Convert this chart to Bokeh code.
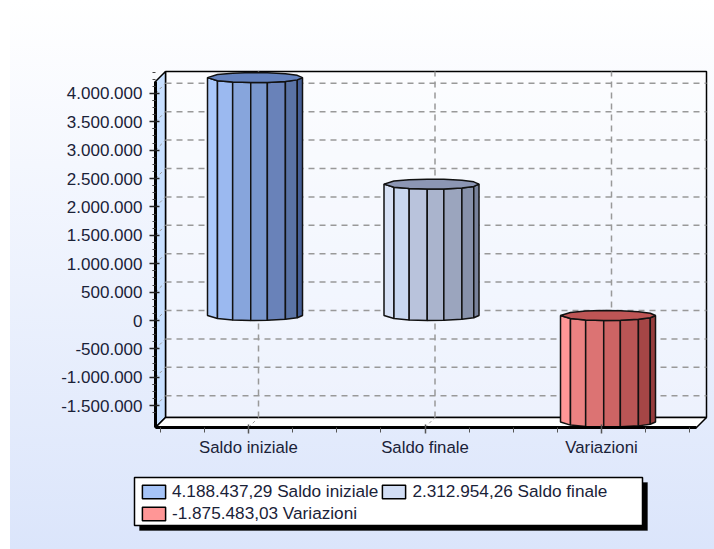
from bokeh.plotting import figure
from bokeh.embed import file_html
from bokeh.resources import INLINE
from bokeh.models import FixedTicker, Range1d, BoxAnnotation, Legend, LegendItem

categories = ["Saldo iniziale", "Saldo finale", "Variazioni"]
values = [4188437.29, 2312954.26, -1875483.03]
legend_labels = ["4.188.437,29 Saldo iniziale", "2.312.954,26 Saldo finale", "-1.875.483,03 Variazioni"]
y_ticks = [-1500000, -1000000, -500000, 0, 500000, 1000000, 1500000, 2000000, 2500000, 3000000, 3500000, 4000000]
y_tick_labels = ["-1.500.000", "-1.000.000", "-500.000", "0", "500.000", "1.000.000", "1.500.000",
                 "2.000.000", "2.500.000", "3.000.000", "3.500.000", "4.000.000"]
legend_colors = ["#A6C4F7", "#D2DEF5", "#FF9696"]
top_colors = ["#6482BE", "#8C96B4", "#BE5555"]
slice_colors = [
    ["#AAC8FA", "#9BB9F0", "#87A5DC", "#7896CD", "#6982B9", "#5A73A5", "#465F96"],
    ["#D7E1F5", "#C8D7F0", "#B9C3DC", "#AAB4CD", "#9BA5BE", "#8791AA", "#78829B"],
    ["#FF9696", "#EB8282", "#DC7373", "#CD6464", "#B95555", "#A54646", "#963C3C"],
]
edges = [-1.0, -0.79, -0.47, -0.09, 0.26, 0.64, 0.89, 1.0]

# The frame fills the page so the legend panel and axis labels are not clipped.
W, H = 714, 549
PX_X = 1 / 176.5            # category units per pixel
PX_Y = 500000 / 28.4        # value units per pixel
DEPTH_X, DEPTH_Y = 10 * PX_X, 10 * PX_Y
CAT0_PX, ZERO_PX = 248, 320

p = figure(width=W, height=H, output_backend="svg", toolbar_location=None,
           x_range=Range1d(-CAT0_PX * PX_X, (W - CAT0_PX) * PX_X),
           y_range=Range1d((ZERO_PX - H) * PX_Y, ZERO_PX * PX_Y),
           min_border=0)
p.outline_line_color = None
p.background_fill_color = None
p.border_fill_color = None
p.grid.visible = False
p.styles = {"background": "linear-gradient(90deg, #fff 10px, transparent 10px), linear-gradient(180deg, #ffffff 0%, #f4f7fe 30%, #dbe5fb 100%)"}

x0, y0 = (155 - CAT0_PX) * PX_X, (ZERO_PX - 427) * PX_Y   # front lower left
x1, y1 = (706 - CAT0_PX) * PX_X, (ZERO_PX - 71) * PX_Y    # back upper right
xf, yf = x0 + DEPTH_X, y0 + DEPTH_Y
xr = x1 - DEPTH_X
ytop = y1 - DEPTH_Y

# Walls
p.patch([xf, x1, x1, xf], [yf, yf, y1, y1], fill_color="white", fill_alpha=0.35, line_color="black", line_width=1.5)
p.patch([x0, xf, xf, x0], [y0, yf, y1, ytop], fill_color="#C8E0FF", line_color="black", line_width=1.5)
p.patch([x0, xf, x1, xr], [y0, yf, yf, y0], fill_color="white", line_color="black", line_width=1.5)

# Grid on the walls
grid = dict(line_color="#999999", line_width=1.5, line_dash="6 5")
p.segment([xf] * len(y_ticks), [t + DEPTH_Y for t in y_ticks], [x1] * len(y_ticks), [t + DEPTH_Y for t in y_ticks], **grid)
p.segment([i + DEPTH_X for i in range(3)], [yf] * 3, [i + DEPTH_X for i in range(3)], [y1] * 3, **grid)
p.segment([x0] * len(y_ticks), y_ticks, [xf] * len(y_ticks), [t + DEPTH_Y for t in y_ticks],
          line_color="#999999", line_width=1, line_dash="3 3")
p.segment(list(range(3)), [y0] * 3, [i + DEPTH_X for i in range(3)], [yf] * 3,
          line_color="#999999", line_width=1, line_dash="3 3")

# Cylinders
RX = 47.5 * PX_X
RY = 5 * PX_Y
SHIFT = 6.5 * PX_X
def front(e, base):
    return base + RY - RY * max(0.0, 1 - e * e) ** 0.5
def back(e, base):
    return base + RY + RY * max(0.0, 1 - e * e) ** 0.5
for i, val in enumerate(values):
    cx = i + SHIFT
    upper, lower = max(val, 0), min(val, 0)
    xs, ys = [], []
    for a, b in zip(edges[:-1], edges[1:]):
        xa, xb = cx + a * RX, cx + b * RX
        xs.append([xa, xb, xb, xa])
        ys.append([front(a, upper), front(b, upper), front(b, lower), front(a, lower)])
    p.patches(xs, ys, fill_color=slice_colors[i], line_color="#111111", line_width=1.5)
    tx = [cx + e * RX for e in edges] + [cx + e * RX for e in reversed(edges[1:-1])]
    ty = [front(e, upper) for e in edges] + [back(e, upper) for e in reversed(edges[1:-1])]
    p.patch(tx, ty, fill_color=top_colors[i], line_color="#111111", line_width=1.5)

# Axes
ya = p.yaxis[0]
ya.fixed_location = x0
minor_y = [t + k * 125000 for t in y_ticks for k in (-1, 1, 2, 3)]
ya.ticker = FixedTicker(ticks=y_ticks, minor_ticks=minor_y)
ya.major_label_overrides = {t: s for t, s in zip(y_ticks, y_tick_labels)}
ya.bounds = (y0, ytop)
ya.axis_line_color = "black"
ya.axis_line_width = 3
ya.major_tick_line_color = "#222222"
ya.major_tick_line_width = 1.5
ya.major_tick_in = 4
ya.major_tick_out = 6
ya.minor_tick_line_color = "#444444"
ya.minor_tick_in = 0
ya.minor_tick_out = 3
ya.major_label_text_font = "Liberation Sans"
ya.major_label_text_font_size = "17px"
ya.major_label_text_color = "#1a2238"
ya.major_label_standoff = 7

xa = p.xaxis[0]
xa.fixed_location = y0
minor_x = [i + k * 0.25 for i in range(-1, 4) for k in (1, 2, 3)]
minor_x = [m for m in minor_x if x0 < m < xr]
xa.ticker = FixedTicker(ticks=[0, 1, 2], minor_ticks=minor_x)
xa.major_label_overrides = {i: c for i, c in enumerate(categories)}
xa.bounds = (x0, xr)
xa.axis_line_color = "black"
xa.axis_line_width = 3
xa.major_tick_line_color = "#555555"
xa.major_tick_line_width = 1.5
xa.major_tick_in = 3
xa.major_tick_out = 6
xa.minor_tick_line_color = "#555555"
xa.minor_tick_in = 0
xa.minor_tick_out = 5
xa.major_label_text_font = "Liberation Sans"
xa.major_label_text_font_size = "16.8px"
xa.major_label_text_color = "#1a2238"
xa.major_label_standoff = 4

# Legend panel with drop shadow (screen y counts from the page's bottom here)
box = dict(left_units="screen", right_units="screen", top_units="screen", bottom_units="screen",
           fill_alpha=1, level="annotation")
p.add_layout(BoxAnnotation(left=139, right=647, top=H - 482, bottom=H - 530, fill_color="black", line_color="black", **box))
p.add_layout(BoxAnnotation(left=134, right=642, top=H - 477, bottom=H - 525, fill_color="white", line_color="black",
                           line_alpha=1, line_width=1.5, **box))
items = []
nan = float("nan")
for lab, col in zip(legend_labels, legend_colors):
    r = p.quad(left=[nan], right=[nan], top=[nan], bottom=[nan], fill_color=col, line_color="black", line_width=1.5)
    items.append(LegendItem(label=lab, renderers=[r]))
legend = Legend(items=items, location=(139, 25), ncols=2, orientation="horizontal",
                background_fill_alpha=0, border_line_color=None,
                label_text_font="Liberation Sans", label_text_font_size="17.2px", label_text_color="#1a2238",
                glyph_width=29, glyph_height=17, padding=2, spacing=1, margin=0, label_standoff=4)
p.add_layout(legend, "center")

open("out.html", "w").write(file_html(p, INLINE))
